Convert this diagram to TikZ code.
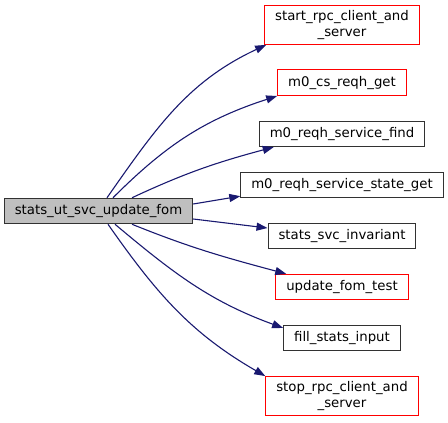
\documentclass[tikz,border=0pt]{standalone}
\usepackage{fontspec}
\setmainfont{DejaVu Sans}
\usetikzlibrary{arrows.meta,positioning}
\definecolor{cgnavy}{RGB}{25,25,112}
\definecolor{cgred}{RGB}{255,0,0}
\definecolor{cgframe}{RGB}{50,50,50}
\definecolor{cggrey}{RGB}{191,191,191}
\tikzset{
  fn/.style={rectangle, draw=cgframe, fill=white, line width=1pt, align=center,
             font=\fontsize{13.3}{15.5}\selectfont, inner xsep=10.5pt, inner ysep=5pt, minimum height=25.5pt},
  fnred/.style={fn, draw=cgred},
  fnroot/.style={fn, fill=cggrey},
  call/.style={-{Triangle[length=11pt,width=8pt]}, cgnavy, line width=1.1pt},
}

\begin{document}
\begin{tikzpicture}[x=1pt,y=1pt,node distance=24.6pt]
        \useasboundingbox (0,0) rectangle (448,-423);
        \node[fnroot](root) at (98.5,-211){stats\_ut\_svc\_update\_fom};
        \node[fnred](start) at (342,-25){start\_rpc\_client\_and\\\_server};
        \node[fnred,below=of start](csget){m0\_cs\_reqh\_get};
        \node[fn,below=of csget](find){m0\_reqh\_service\_find};
        \node[fn,below=of find](state){m0\_reqh\_service\_state\_get};
        \node[fn,below=of state](inv){stats\_svc\_invariant};
        \node[fnred,below=of inv](upd){update\_fom\_test};
        \node[fn,below=of upd](fill){fill\_stats\_input};
        \node[fnred,below=of fill](stop){stop\_rpc\_client\_and\\\_server};
        \draw[call]([xshift=8.5pt]root.north) to[out=55,in=205] ([xshift=2pt]start.south west);
        \draw[call]([xshift=14.5pt]root.north) to[out=45,in=198] (csget.south west);
        \draw[call]([xshift=33.5pt]root.north) to[out=25,in=195] ([xshift=15pt]find.south west);
        \draw[call]([yshift=7pt]root.east) -- ([yshift=2pt]state.south west);
        \draw[call]([yshift=-8pt]root.east) -- ([yshift=8pt]inv.west);
        \draw[call]([xshift=33.5pt]root.south) to[out=-22,in=165] ([xshift=11pt]upd.north west);
        \draw[call]([xshift=16.5pt]root.south) to[out=-40,in=160] ([yshift=-3pt]fill.north west);
        \draw[call]([xshift=9.5pt]root.south) to[out=-55,in=150] (stop.north west);
    \end{tikzpicture}
\end{document}
